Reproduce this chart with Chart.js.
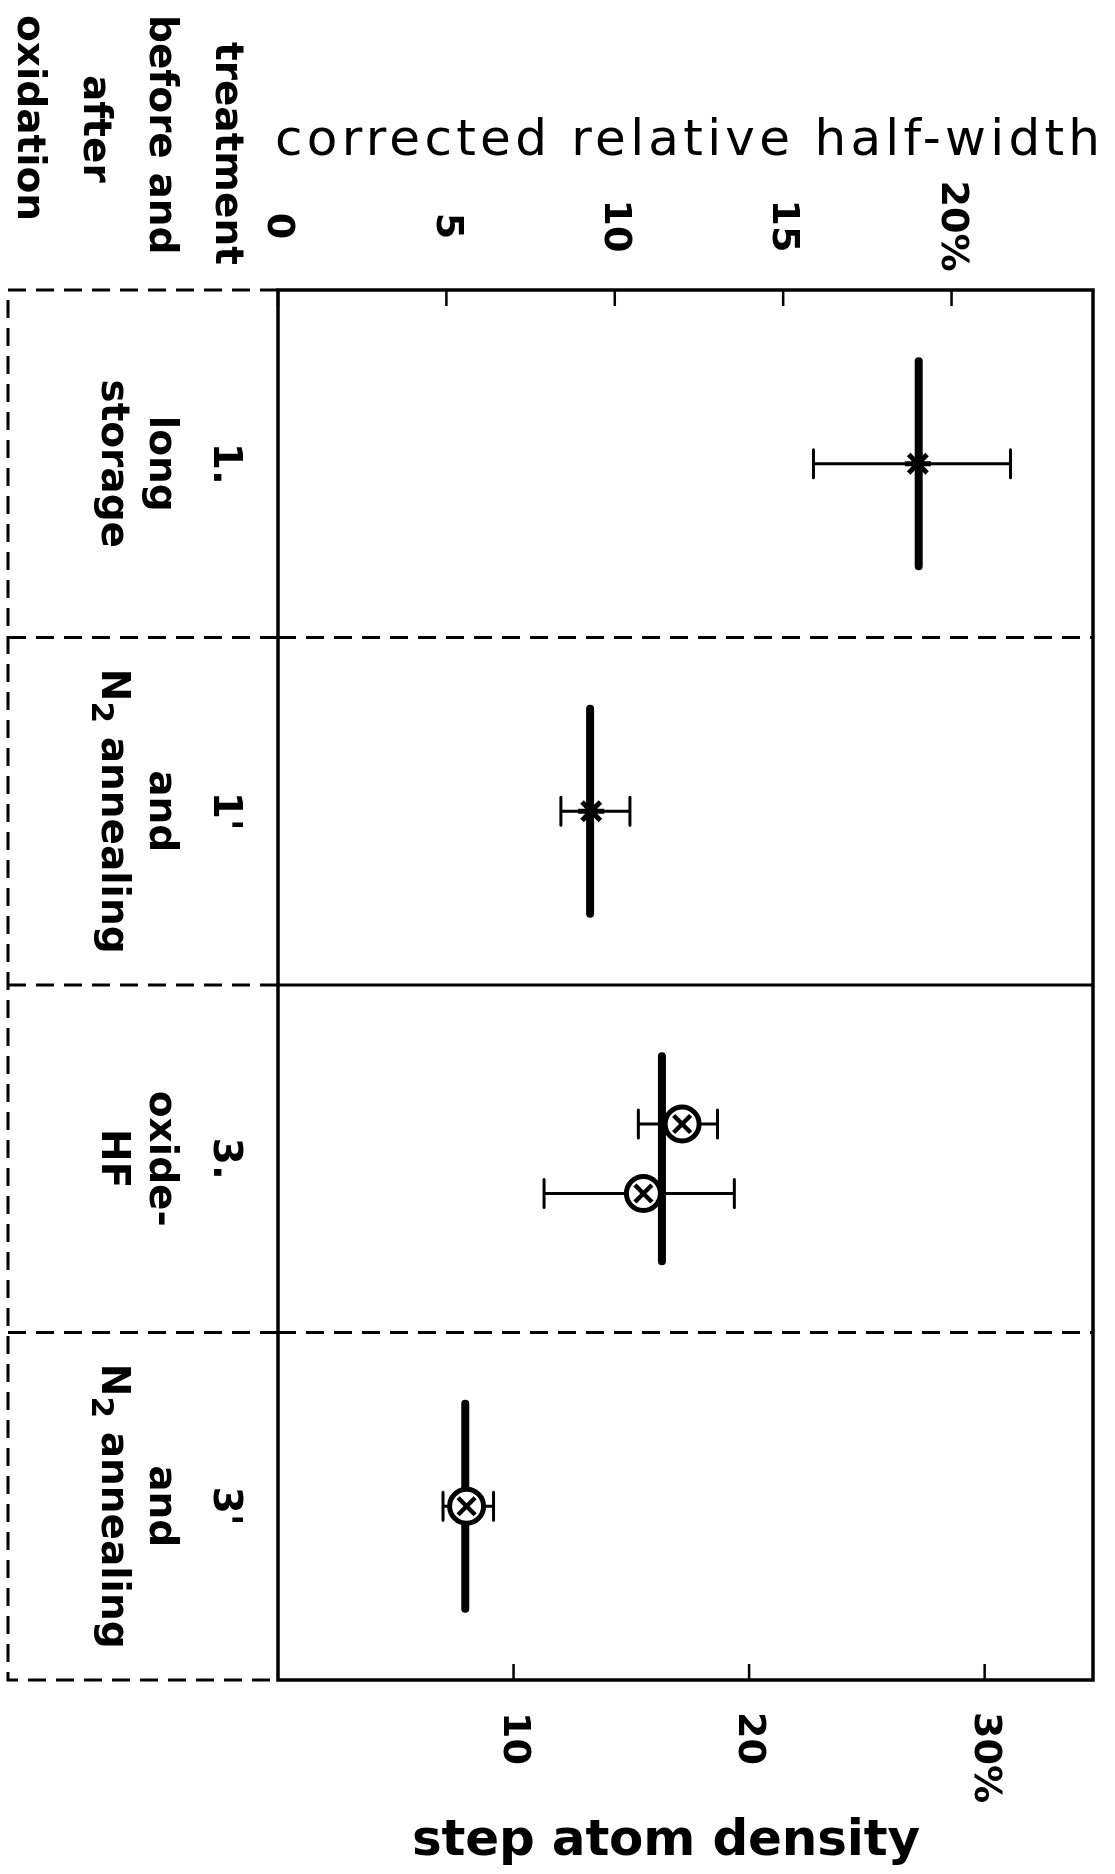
<!DOCTYPE html>
<html>
<head>
<meta charset="utf-8">
<script src="https://cdn.jsdelivr.net/npm/chart.js@4.4.1/dist/chart.umd.min.js"></script>
<style>
html, body { margin: 0; padding: 0; background: #fff; }
#wrap { width: 1115px; height: 1874px; }
</style>
</head>
<body>
<div id="wrap"><canvas id="chart" width="1115" height="1874"></canvas></div>
<script>
// rows of the table, top to bottom
const rowNumbers = ['1.', "1'", '3.', "3'"];
const rowLine1 = ['long', 'and', 'oxide-', 'and'];
const rowLine2 = ['storage', 'N\u2082 annealing', 'HF', 'N\u2082 annealing'];
const headerLines = ['treatment', 'before and', 'after', 'oxidation'];

// step atom density in % (thick bars, bottom axis)
const stepDensity = [27.2, 13.25, 16.3, 7.95];

// corrected relative half-width in % (points with error bars, top axis)
const hwRow = [0, 1, 2, 2, 3];
const hwShift = [0, 0, -0.1, 0.1, 0];
const hwValue = [19.0, 9.3, 12.0, 10.85, 5.6];
const hwLow = [15.9, 8.4, 10.7, 7.9, 4.9];
const hwHigh = [21.75, 10.45, 13.05, 13.55, 6.4];
const hwMarker = ['star', 'star', 'circle', 'circle', 'circle'];

const topTicks = [0, 5, 10, 15, 20];
const topTickLabels = ['0', '5', '10', '15', '20%'];
const bottomTicks = [10, 20, 30];
const bottomTickLabels = ['10', '20', '30%'];

const BAR_HALF = 0.295;
const FONT = '"DejaVu Sans", sans-serif';

function pointsOf(type) {
    const pts = [];
    hwValue.forEach((v, i) => {
        if (hwMarker[i] === type) pts.push({ x: v, y: hwRow[i] + 0.5 + hwShift[i] });
    });
    return pts;
}

const datasets = [];
datasets.push({
    data: pointsOf('circle'), xAxisID: 'xTop', yAxisID: 'y', order: 0,
    pointStyle: 'crossRot', pointRadius: 12, pointBorderWidth: 4.5,
    borderColor: '#000', backgroundColor: '#000', showLine: false
});
datasets.push({
    data: pointsOf('circle'), xAxisID: 'xTop', yAxisID: 'y', order: 1,
    pointStyle: 'circle', pointRadius: 17, pointBorderWidth: 5,
    borderColor: '#000', backgroundColor: '#fff', showLine: false
});
datasets.push({
    data: pointsOf('star'), xAxisID: 'xTop', yAxisID: 'y', order: 2,
    pointStyle: 'star', pointRadius: 13, pointBorderWidth: 5,
    borderColor: '#000', backgroundColor: '#000', showLine: false
});
stepDensity.forEach((v, i) => {
    datasets.push({
        data: [{ x: v, y: i + 0.5 - BAR_HALF }, { x: v, y: i + 0.5 + BAR_HALF }],
        xAxisID: 'xBot', yAxisID: 'y', order: 3,
        showLine: true, borderWidth: 8, borderColor: '#000', borderCapStyle: 'round',
        pointRadius: 0
    });
});

// text turned a quarter clockwise; a "₂" is set as a lowered digit
function vtext(ctx, str, x, y, align) {
    ctx.save();
    ctx.translate(x, y);
    ctx.rotate(Math.PI / 2);
    ctx.textBaseline = 'middle';
    const parts = str.split('\u2082');
    if (parts.length === 1) {
        ctx.textAlign = align;
        ctx.fillText(str, 0, 0);
    } else {
        const baseFont = ctx.font;
        const size = parseFloat(baseFont.match(/(\d+(\.\d+)?)px/)[1]);
        const subFont = baseFont.replace(/\d+(\.\d+)?px/, Math.round(size * 0.8) + 'px');
        const w0 = ctx.measureText(parts[0]).width;
        const w2 = ctx.measureText(parts[1]).width;
        ctx.font = subFont;
        const ws = ctx.measureText('2').width;
        const total = w0 + ws + w2;
        let cx = align === 'center' ? -total / 2 : 0;
        ctx.textAlign = 'left';
        ctx.font = baseFont;
        ctx.fillText(parts[0], cx, 0);
        cx += w0;
        ctx.font = subFont;
        ctx.fillText('2', cx, size * 0.3);
        cx += ws;
        ctx.font = baseFont;
        ctx.fillText(parts[1], cx, 0);
    }
    ctx.restore();
}

function fitText(ctx, str, x0, x1, y) {
    ctx.save();
    ctx.letterSpacing = '0px';
    const w = ctx.measureText(str).width;
    const sp = (x1 - x0 - w) / (str.length - 1);
    ctx.letterSpacing = sp + 'px';
    ctx.textAlign = 'left';
    ctx.textBaseline = 'alphabetic';
    ctx.fillText(str, x0, y);
    ctx.restore();
}

const extras = {
    id: 'extras',
    beforeDatasetsDraw(chart) {
        const ctx = chart.ctx, xs = chart.scales.xTop, ys = chart.scales.y;
        ctx.save();
        ctx.strokeStyle = '#000';
        ctx.lineWidth = 3;
        ctx.lineCap = 'round';
        hwValue.forEach((v, i) => {
            const y = ys.getPixelForValue(hwRow[i] + 0.5 + hwShift[i]);
            const a = xs.getPixelForValue(hwLow[i]);
            const b = xs.getPixelForValue(hwHigh[i]);
            ctx.beginPath();
            ctx.moveTo(a, y); ctx.lineTo(b, y);
            ctx.moveTo(a, y - 14); ctx.lineTo(a, y + 14);
            ctx.moveTo(b, y - 14); ctx.lineTo(b, y + 14);
            ctx.stroke();
        });
        ctx.restore();
    },
    afterDatasetsDraw(chart) {
        const ctx = chart.ctx;
        const { left, right, top, bottom } = chart.chartArea;
        const xt = chart.scales.xTop, xb = chart.scales.xBot, ys = chart.scales.y;
        const boxLeft = 8;
        ctx.save();
        ctx.strokeStyle = '#000';
        ctx.fillStyle = '#000';
        ctx.lineWidth = 3;

        // label box, dashed
        ctx.setLineDash([18, 10]);
        ctx.beginPath();
        ctx.moveTo(left, top); ctx.lineTo(boxLeft, top); ctx.lineTo(boxLeft, bottom); ctx.lineTo(left, bottom);
        for (let r = 1; r < rowNumbers.length; r++) {
            const y = ys.getPixelForValue(r);
            ctx.moveTo(boxLeft, y); ctx.lineTo(left, y);
        }
        ctx.stroke();

        // row dividers inside the plot: dashed, solid, dashed
        for (let r = 1; r < rowNumbers.length; r++) {
            const y = ys.getPixelForValue(r);
            ctx.setLineDash(r === 2 ? [] : [18, 10]);
            ctx.beginPath();
            ctx.moveTo(left, y); ctx.lineTo(right, y);
            ctx.stroke();
        }

        // frame
        ctx.setLineDash([]);
        ctx.lineWidth = 3.5;
        ctx.strokeRect(left, top, right - left, bottom - top);

        // inward ticks
        ctx.lineWidth = 2.5;
        ctx.beginPath();
        topTicks.forEach(v => {
            const x = xt.getPixelForValue(v);
            ctx.moveTo(x, top); ctx.lineTo(x, top + 16);
        });
        bottomTicks.forEach(v => {
            const x = xb.getPixelForValue(v);
            ctx.moveTo(x, bottom); ctx.lineTo(x, bottom - 16);
        });
        ctx.stroke();

        // tick labels
        ctx.font = 'bold 38px ' + FONT;
        topTicks.forEach((v, i) => vtext(ctx, topTickLabels[i], xt.getPixelForValue(v), 226, 'center'));
        bottomTicks.forEach((v, i) => vtext(ctx, bottomTickLabels[i], xb.getPixelForValue(v), 1712, 'left'));

        // axis titles
        ctx.font = '50px ' + FONT;
        fitText(ctx, 'corrected relative half-width', 275, 1100, 155);
        ctx.font = 'bold 50px ' + FONT;
        fitText(ctx, 'step atom density', 412, 920, 1855);

        // header of the label column
        ctx.font = 'bold 39px ' + FONT;
        vtext(ctx, headerLines[0], 226, 42, 'left');
        vtext(ctx, headerLines[1], 160, 15, 'left');
        vtext(ctx, headerLines[2], 94, 75, 'left');
        vtext(ctx, headerLines[3], 28, 15, 'left');

        // row labels
        rowNumbers.forEach((t, r) => {
            const yc = ys.getPixelForValue(r + 0.5);
            vtext(ctx, t, 224, yc, 'center');
            vtext(ctx, rowLine1[r], 160, yc, 'center');
            vtext(ctx, rowLine2[r], 112, yc, 'center');
        });
        ctx.restore();
    }
};

new Chart(document.getElementById('chart'), {
    type: 'scatter',
    data: { datasets: datasets },
    options: {
        responsive: false,
        animation: false,
        layout: { padding: { left: 278, right: 2, top: 290, bottom: 194 } },
        plugins: { legend: { display: false }, tooltip: { enabled: false } },
        scales: {
            xTop: { type: 'linear', position: 'top', min: 0, max: 24.2, display: false },
            xBot: { type: 'linear', position: 'bottom', min: 0, max: 34.6, display: false },
            y: { type: 'linear', min: 0, max: 4, reverse: true, display: false }
        }
    },
    plugins: [extras]
});
</script>
</body>
</html>
